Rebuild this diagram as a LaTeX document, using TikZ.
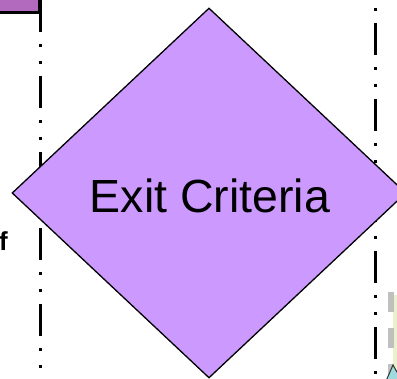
\documentclass[tikz,border=0pt]{standalone}
\usepackage{fontspec}
\setmainfont{Liberation Sans}
\usetikzlibrary{shapes.geometric}
\definecolor{diafill}{RGB}{204,153,255}
\definecolor{boxfill}{RGB}{178,106,190}
\definecolor{greyband}{RGB}{192,192,192}
\definecolor{greenband}{RGB}{234,241,204}
\definecolor{tealfill}{RGB}{160,218,222}
\tikzset{
  lanerule/.style={line width=3pt, black,
    dash pattern=on 32pt off 12pt on 3pt off 14pt on 3pt off 12pt},
  decision/.style={diamond, draw=black, line width=1.3pt, fill=diafill,
    minimum width=394pt, minimum height=370pt, inner sep=0pt},
  bigtext/.style={font=\fontsize{46.5}{50}\selectfont, inner sep=0pt},
  cuttext/.style={font=\bfseries\fontsize{26}{30}\selectfont, inner sep=0pt}
}
\begin{document}
\begin{tikzpicture}[x=1pt,y=-1pt]
\useasboundingbox (0,0) rectangle (397,379);
\clip (0,0) rectangle (397,379);
% top-left box fragment
\draw[line width=3pt, fill=boxfill] (-10,-10) rectangle (39,12.5);
% lane boundaries
\coordinate (lt) at (40,0);
\coordinate (lb) at (40,385);
\coordinate (rt) at (375,-53);
\coordinate (rb) at (375,385);
\draw[lanerule] (lt) -- (lb);
\draw[lanerule] (rt) -- (rb);
% fragments at right edge
\fill[greenband] (393,295) rectangle (402,385);
\draw[greyband, line width=6pt, dash pattern=on 20pt off 16pt] (390.5,292) -- (390.5,385);
\filldraw[fill=tealfill, draw=black!80, line width=1pt] (386,381) -- (393,365) -- (402,381) -- cycle;
% decision
\node[decision] (exit) at (209,193) {};
\node[bigtext, anchor=base] (exitlabel) at (210,213) {Exit Criteria};
% cut-off text at left
\node[cuttext, anchor=base east] (cut) at (8,251) {f};
\end{tikzpicture}
\end{document}
